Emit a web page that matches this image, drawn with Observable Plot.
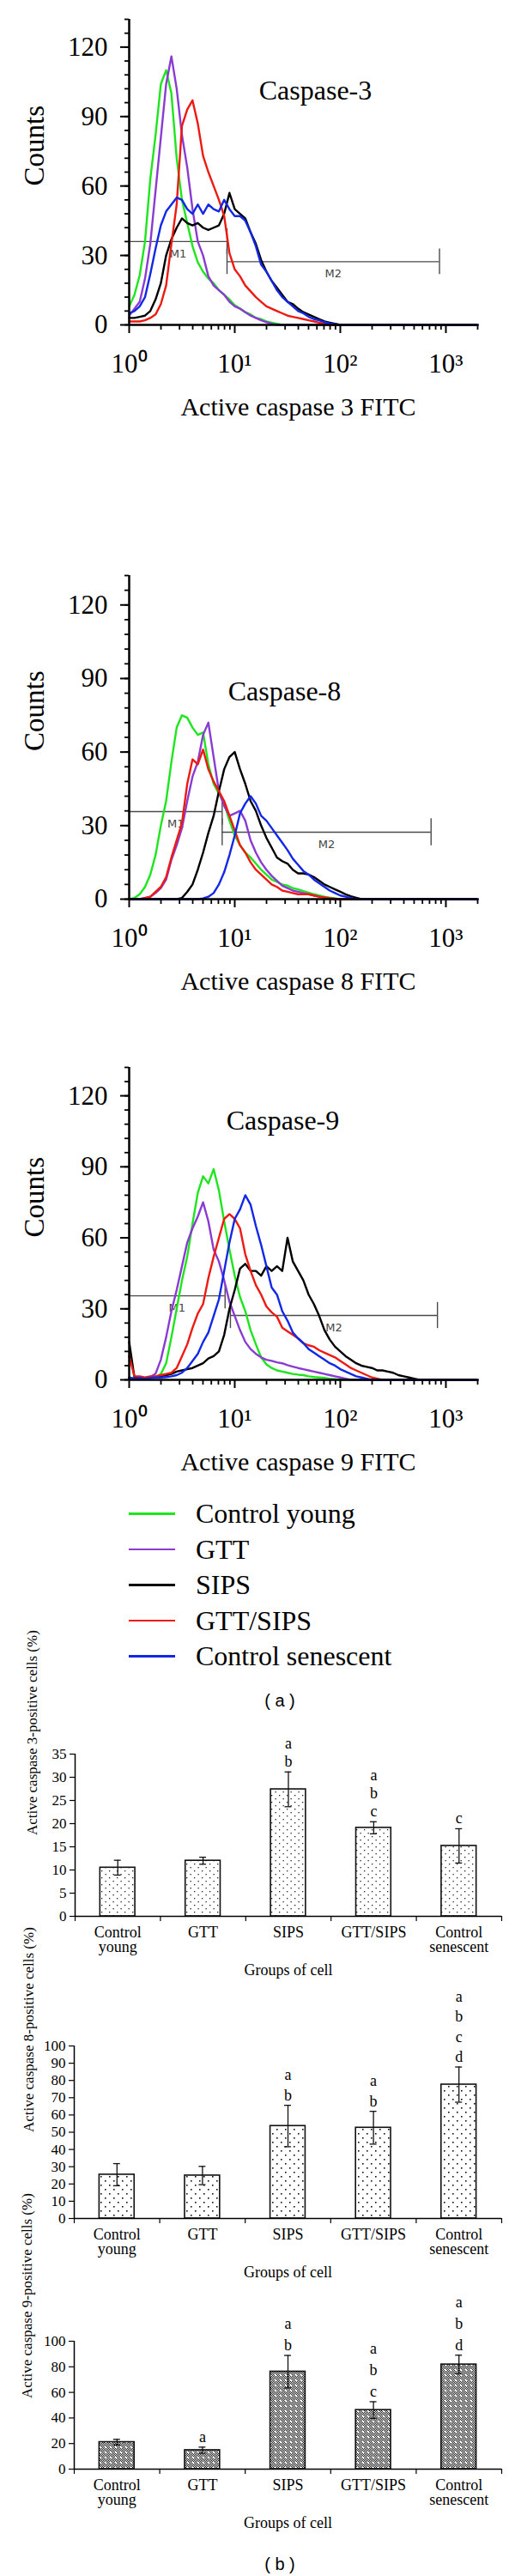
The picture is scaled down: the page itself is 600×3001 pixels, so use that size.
<!DOCTYPE html>
<html><head><meta charset="utf-8">
<script src="https://cdn.jsdelivr.net/npm/d3@7"></script>
<script src="https://cdn.jsdelivr.net/npm/@observablehq/plot@0.6"></script>
<style>
body{margin:0;background:#fff;}
#page{position:relative;width:600px;height:3001px;overflow:hidden;font-family:"Liberation Serif",serif;color:#000;}
.blk{position:absolute;left:0;}
</style></head><body><div id="page"></div>
<script>
// ---------- shared ----------
const groups = ["Control young", "GTT", "SIPS", "GTT/SIPS", "Control senescent"];
const colors = ["#1ee61e", "#8a3cd2", "#000000", "#ee1a12", "#1228e6"];
const groupTicks = ["Control\nyoung", "GTT", "SIPS", "GTT/SIPS", "Control\nsenescent"];
const STEP = 0.05;      // histogram bin width in decades (log10)
const XMAX = 2000;
const SUP = ["\u2070", "\u00b9", "\u00b2", "\u00b3"];

// ---------- caspase-3 histograms (counts per bin, starting at 10^0) ----------
const young3 = [8,13,21.5,36,63,82,104,110,100,72,54,44,34,27,23,20,18,15,13,11,8.5,7,5.5,4.5,3,2.5,1.5,1,0.5,0];
const gtt3 = [4,7,10,20,35,58,81,104,116,102,82,68,50,36,30,21,17,15,13,10,8,7,5.5,4,3,2,1.2,0.5,0];
const sips3 = [3,3,3.5,4,6,11,18,30,37,42,46,44,43,44,42,41,42,43,48,57,50,48,46,40,35,28,23,19,16,13,10,9,7,5.5,4.5,3.5,2.5,1.5,1,0.5,0];
const gttSips3 = [1.5,1.5,1.5,2,3,4.5,9,17,35,52,86,93,97,87,73,66,60,54,47,31,24,21,17,14.5,12,10,8,7,6,5,4,3.5,3,2.5,2,1.5,1,0.5,0];
const senescent3 = [5,6,8,12,22,33,43,49,52,55,54,50,48,52,48,52,50,49,54,50,47,47,45,40,34,26,23,19,15,12,10,8,6,5,3.5,2.5,2,1.2,0.6,0.3,0];
const gates3 = [{name: "M1", y: 36, from: 1, to: 8.45}, {name: "M2", y: 27.3, from: 8.45, to: 870}];

// ---------- caspase-8 ----------
const young8 = [0,0.5,2,5,10,18,30,40,56,70,75,74,70,67,68,55,47,43,39,32,26,22,19,17,14.5,12,10,8,7,6,5.5,4.5,4,3.3,2.7,2,1.5,1,0.6,0.3,0];
const gtt8 = [0,0,0,0.5,1,2.5,4.5,8,16,22,29,40,50,56,67,72,58,44,38,34,35,36,32,24,19,15,12,9.5,7.5,5.5,4.5,3.5,3,2.5,2,1.5,1,0.6,0.3,0];
const sips8 = [0,0,0,0,0,0,0,0,0,0,0.5,3,6,12,19,27,34,44,53,58,60,53,47,40,36,30,25,21,17,15.5,14.5,12,10.5,10.5,10,9,7.5,6,5,4,3,2,1.2,0.6,0];
const gttSips8 = [0,0,0,0.5,1,3,5,9,17,24,31,47,57,55,61,53,48,44,40,34,28,22,19,15,12,10,8,6,5,3.5,3,2.5,2,2,2,1.5,1,0.7,0.4,0.2,0];
const senescent8 = [0,0,0,0,0,0,0,0,0,0,0,0,0,0,0.3,1,2.5,6,11,18,26,35,39,42,39,34,32,29,26,23,20,16.5,14,11.5,10,8,6.5,5,3.5,2.5,1.5,1,0.5,0];
const gates8 = [{name: "M1", y: 35.7, from: 1, to: 7.6}, {name: "M2", y: 27.3, from: 7.6, to: 724}];

// ---------- caspase-9 ----------
const young9 = [1,0.5,0.8,0.5,0.8,1,2.5,7,18,30,42,52,66,79,86,83,89,80,67,55,44,35,29,21,15,9.5,6.5,5,4,3.5,3,2.5,2.2,2,1.5,1.2,1,0.8,0.5,0.3,0];
const gtt9 = [0.5,0.5,0.5,0.8,1.2,2.6,8.5,18,29,38,48,58,64,69,75,67,55,50,42,33,27,21,16,13,11,9.5,8.5,8,7.4,7,6.2,5.6,5,4.5,4,3.5,3,2.5,2,1.5,1,0.5,0];
const sips9 = [16,1,1,0.5,1,1,1.5,2,2.5,3.5,4,4.5,5,6,7,9,10,12,19,30,38,47,49,46,46,44,48,46,48,46,60,50,46,42,36,32,27,21,17,14,12,10,8.5,7,6,5.5,5,4,4,3.5,3,2,1.5,1,0.5,0];
const gttSips9 = [10,1.5,1.5,1,1.5,1.5,2,2.5,3,5,10,15,22,28,32,43,52,60,68,70,68,64,53,46,40,36,31,28.5,26.7,22,20.5,19,17.5,15.5,14.6,14,12.5,11.5,10.5,9.5,8,6.5,5,4,3,2,1,0.5,0];
const senescent9 = [1,0.5,0.8,0.5,0.8,1,1,1.2,1.5,2,3,5,8,11,16,20,27,34,46,58,68,72,78,74,65,57,48,39,36,29,25,20,17.5,15.5,13,11.5,10,8.5,7,6,4.5,3.5,2.5,1.5,1,0.5,0];
const gates9 = [{name: "M1", y: 35.5, from: 1, to: 8.1}, {name: "M2", y: 27.2, from: 9.1, to: 832}];

// ---------- bar charts ----------
const means3 = [10.5, 12.0, 27.4, 19.1, 15.2];
const errs3 = [1.6, 0.75, 3.75, 1.3, 3.7];
const letters3 = [[], [], ["a", "b"], ["a", "b", "c"], ["c"]];
const means8 = [25.4, 24.9, 53.6, 52.6, 77.6];
const errs8 = [6.4, 5.3, 12, 9.5, 10.2];
const letters8 = [[], [], ["a", "b"], ["a", "b"], ["a", "b", "c", "d"]];
const means9 = [21.1, 14.8, 76.2, 46.2, 81.8];
const errs9 = [2.2, 2.4, 12.7, 6.5, 7.3];
const letters9 = [[], ["a"], ["a", "b"], ["a", "b", "c"], ["a", "b", "d"]];

const page = document.getElementById("page");
function place(node, top) {
  const d = document.createElement("div");
  d.className = "blk";
  d.style.top = top + "px";
  d.appendChild(node);
  page.appendChild(d);
}

function histo(cfg) {
  const rows = [];
  cfg.series.forEach((vals, s) => {
    vals.forEach((c, i) => rows.push({group: groups[s], x: 10 ** (i * STEP), count: c}));
    rows.push({group: groups[s], x: XMAX, count: 0});
  });
  const minor = [];
  for (const d of [1, 10, 100, 1000]) for (let k = 2; k <= 9; k++) if (k * d <= XMAX) minor.push(k * d);
  const gateBars = cfg.gates.flatMap(g => [{x: g.from, y: g.y}, {x: g.to, y: g.y}]);
  return Plot.plot({
    width: 600, height: cfg.height,
    marginTop: 22, marginLeft: 150, marginRight: 44, marginBottom: cfg.marginBottom,
    style: {background: "none", fontFamily: "Liberation Serif", fontSize: "31px", color: "black", overflow: "visible"},
    x: {type: "log", domain: [1, XMAX]},
    y: {domain: [0, 132]},
    color: {domain: groups, range: colors},
    marks: [
      Plot.ruleY(cfg.gates, {y: "y", x1: "from", x2: "to", stroke: "#4a4a4a", strokeWidth: 1.4}),
      Plot.ruleX(gateBars, {x: "x", y1: d => d.y - 5.5, y2: d => d.y + 5.5, stroke: "#4a4a4a", strokeWidth: 1.4}),
      Plot.text(cfg.gates, {x: d => Math.sqrt(d.from * d.to), y: "y", text: "name", dy: 14, fontFamily: "DejaVu Sans", fontSize: 13, fill: "#444"}),
      Plot.line(rows, {x: "x", y: "count", z: "group", stroke: "group", strokeWidth: 2.4}),
      Plot.ruleX([1], {strokeWidth: 2.5}),
      Plot.ruleY([0], {strokeWidth: 2.5}),
      Plot.axisY({ticks: [0, 30, 60, 90, 120], tickSize: 10, tickPadding: 15, fontSize: 31, strokeWidth: 2, label: null}),
      Plot.axisY({ticks: d3.range(0, 133, 6), tickSize: 5, tickFormat: () => "", strokeWidth: 1.8, label: null}),
      Plot.axisX({ticks: [1, 10, 100, 1000], tickSize: 10, tickPadding: 23, fontSize: 31, strokeWidth: 2,
                  tickFormat: d => "10" + SUP[Math.round(Math.log10(d))], label: null}),
      Plot.axisX({ticks: minor, tickSize: 6, tickFormat: () => "", strokeWidth: 1.8, label: null}),
      Plot.text(["Counts"], {frameAnchor: "left", rotate: -90, dx: -110, dy: 16, fontSize: 33}),
      Plot.text([cfg.title], {frameAnchor: "top", lineAnchor: "bottom", dx: cfg.titleDx, dy: cfg.titleDy, fontSize: 32}),
      Plot.text([cfg.xLabel], {frameAnchor: "bottom", lineAnchor: "bottom", dx: -6, dy: 105, fontSize: 30})
    ]
  });
}

place(histo({series: [young3, gtt3, sips3, gttSips3, senescent3], gates: gates3, height: 500, marginBottom: 122,
  title: "Caspase-3", titleDx: 14, titleDy: 93, xLabel: "Active caspase 3 FITC"}), 0);
place(histo({series: [young8, gtt8, sips8, gttSips8, senescent8], gates: gates8, height: 520, marginBottom: 121,
  title: "Caspase-8", titleDx: -22, titleDy: 145, xLabel: "Active caspase 8 FITC"}), 648);
place(histo({series: [young9, gtt9, sips9, gttSips9, senescent9], gates: gates9, height: 505, marginBottom: 119,
  title: "Caspase-9", titleDx: -24, titleDy: 72, xLabel: "Active caspase 9 FITC"}), 1221);

// legend
groups.forEach((g, i) => {
  const row = document.createElement("div");
  const c = 1763 + i * 41.5;
  row.style.cssText = `position:absolute;left:0;top:${c - 20}px;height:40px;width:600px;`;
  row.innerHTML = `<span style="position:absolute;left:150px;top:19px;width:54px;height:2.5px;background:${colors[i]}"></span>` +
    `<span style="position:absolute;left:228px;top:0;line-height:40px;font-size:32px;white-space:nowrap">${g}</span>`;
  page.appendChild(row);
});

function panelTag(txt, centerY) {
  const d = document.createElement("div");
  d.style.cssText = `position:absolute;left:226px;width:200px;text-align:center;top:${centerY - 13}px;line-height:26px;font-family:'Liberation Sans',sans-serif;font-size:20px;`;
  d.textContent = txt;
  page.appendChild(d);
}
panelTag("( a )", 1981);
panelTag("( b )", 2987);

const patterns = {
  pat1: `<pattern id="pat1" width="9" height="8" patternUnits="userSpaceOnUse"><rect width="9" height="8" fill="#fff"/><rect x="1" y="1" width="1.3" height="1.3" fill="#222"/><rect x="5.5" y="5" width="1.3" height="1.3" fill="#222"/></pattern>`,
  pat2: `<pattern id="pat2" width="10" height="10" patternUnits="userSpaceOnUse"><rect width="10" height="10" fill="#fff"/><rect x="2" y="2" width="1.6" height="1.6" fill="#111"/><rect x="7" y="7" width="1.6" height="1.6" fill="#111"/></pattern>`,
  pat3: `<pattern id="pat3" width="6" height="6" patternUnits="userSpaceOnUse"><rect width="6" height="6" fill="#fff"/>` +
        `<path d="M0 0h1v1h-1zM2 0h1v1h-1zM4 0h1v1h-1zM1 1h1v1h-1zM3 1h1v1h-1zM5 1h1v1h-1zM0 2h1v1h-1zM4 2h1v1h-1zM5 3h1v1h-1zM1 3h1v1h-1zM0 4h1v1h-1zM2 4h1v1h-1zM4 4h1v1h-1zM1 5h1v1h-1zM3 5h1v1h-1zM5 5h1v1h-1z" fill="#111"/></pattern>`
};

function barChart(cfg) {
  const rows = groups.map((g, i) => ({i, group: g, tick: groupTicks[i], mean: cfg.means[i], err: cfg.errs[i], letters: cfg.letters[i].join("\n")}));
  const chart = Plot.plot({
    width: 600, height: cfg.height,
    marginTop: cfg.marginTop, marginBottom: cfg.marginBottom, marginLeft: cfg.marginLeft, marginRight: 16,
    style: {background: "none", fontFamily: "Liberation Serif", fontSize: "17px", color: "black", overflow: "visible"},
    x: {type: "linear", domain: [0, groups.length]},
    y: {domain: [0, cfg.yMax]},
    marks: [
      Plot.rectY(rows, {x1: d => d.i + 0.295, x2: d => d.i + 0.705, y1: 0, y2: "mean", fill: `url(#${cfg.pattern})`, stroke: "#111", strokeWidth: 1.6}),
      Plot.ruleX(rows, {x: d => d.i + 0.5, y1: d => d.mean - d.err, y2: d => d.mean + d.err, stroke: "#111", strokeWidth: 1.3}),
      Plot.ruleY(rows, {x1: d => d.i + 0.46, x2: d => d.i + 0.54, y: d => d.mean + d.err, stroke: "#111", strokeWidth: 1.3}),
      Plot.ruleY(rows, {x1: d => d.i + 0.46, x2: d => d.i + 0.54, y: d => d.mean - d.err, stroke: "#111", strokeWidth: 1.3}),
      Plot.text(rows.filter(d => d.letters), {x: d => d.i + 0.5, y: d => d.mean + d.err, text: "letters", lineAnchor: "bottom", dy: -6, fontSize: 18, lineHeight: cfg.lineHeight}),
      Plot.ruleX([0], {strokeWidth: 1.5}),
      Plot.ruleY([0], {strokeWidth: 1.5}),
      Plot.axisY({ticks: d3.range(0, cfg.yMax + 0.001, cfg.yStep), tickSize: 6, tickPadding: 4, fontSize: 17, strokeWidth: 1.2, label: null}),
      Plot.axisX({ticks: d3.range(0, groups.length + 1), tickSize: 6, tickFormat: () => "", strokeWidth: 1.2, label: null}),
      Plot.text(rows, {x: d => d.i + 0.5, text: "tick", frameAnchor: "bottom", lineAnchor: "top", dy: 12, fontSize: 18, lineHeight: 0.95}),
      Plot.text(["Groups of cell"], {frameAnchor: "bottom", lineAnchor: "middle", dy: 63, fontSize: 18}),
      Plot.text([cfg.yLabel], {frameAnchor: "left", rotate: -90, dx: cfg.yLabelDx, dy: cfg.yLabelDy, fontSize: 17})
    ]
  });
  d3.select(chart).insert("defs", ":first-child").html(patterns[cfg.pattern]);
  return chart;
}

place(barChart({means: means3, errs: errs3, letters: letters3, height: 300, marginTop: 33, marginBottom: 78, marginLeft: 87,
  yMax: 35, yStep: 5, yLabel: "Active caspase 3-positive cells (%)", yLabelDx: -50, yLabelDy: 0, pattern: "pat1", lineHeight: 1.17}), 2010);
place(barChart({means: means8, errs: errs8, letters: letters8, height: 345, marginTop: 65, marginBottom: 79, marginLeft: 86,
  yMax: 100, yStep: 10, yLabel: "Active caspase 8-positive cells (%)", yLabelDx: -53, yLabelDy: 0, pattern: "pat2", lineHeight: 1.3}), 2318);
place(barChart({means: means9, errs: errs9, letters: letters9, height: 300, marginTop: 65, marginBottom: 86, marginLeft: 86,
  yMax: 100, yStep: 20, yLabel: "Active caspase 9-positive cells (%)", yLabelDx: -55, yLabelDy: -8, pattern: "pat3", lineHeight: 1.38}), 2662);
</script></body></html>
